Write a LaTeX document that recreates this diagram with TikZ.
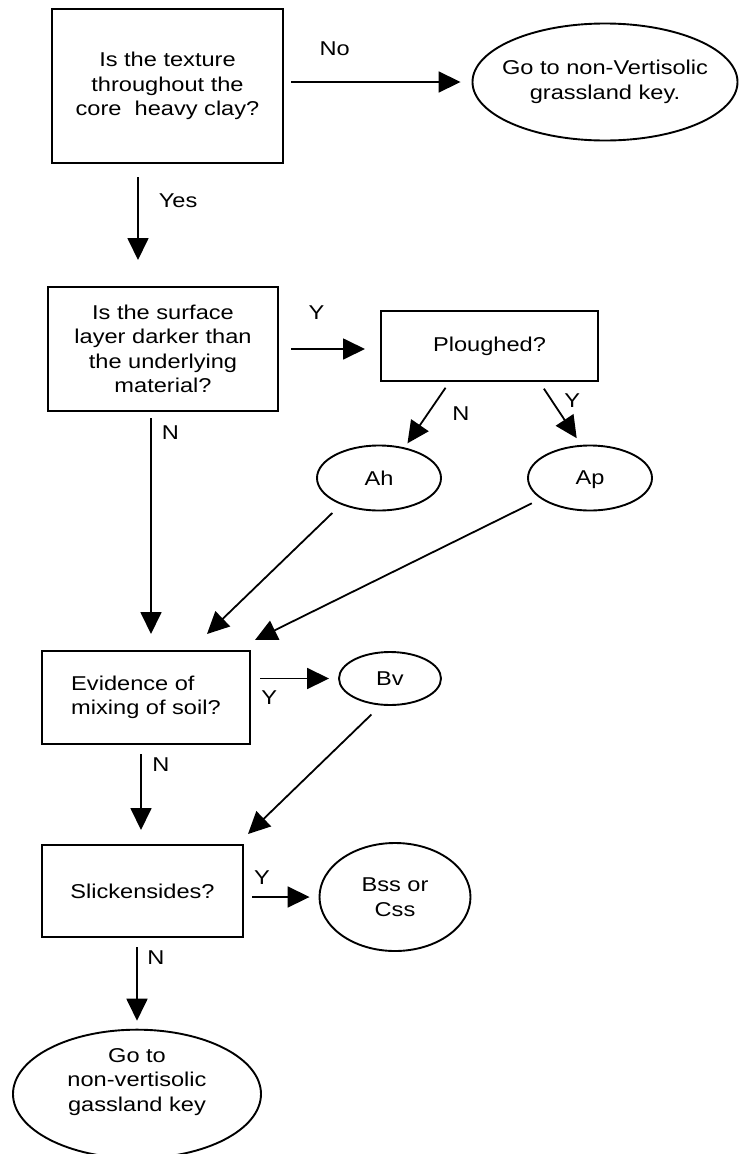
\documentclass[tikz,border=0pt]{standalone}
\usepackage{fontspec}
\setmainfont{Liberation Sans}[FakeStretch=1.18]
\usetikzlibrary{arrows.meta}
\usetikzlibrary{shapes.geometric}

\begin{document}
\begin{tikzpicture}[x=1pt,y=1pt,
  font=\fontsize{20}{24.5}\selectfont,
  >={Triangle[length=22pt,width=21pt]},
  qbox/.style={draw,line width=2pt,rectangle,align=center,inner sep=0pt},
  oval/.style={draw,line width=1.9pt,ellipse,align=center,inner xsep=-15pt,inner ysep=0pt},
  arr/.style={->,line width=1.8pt},
  lbl/.style={inner sep=1pt}]
\useasboundingbox (0,0) rectangle (740,-1154);

\node[qbox, minimum width=231pt, minimum height=154pt] (texture) at (167.5,-86) {Is the texture\\throughout the\\core\ \ heavy clay?};
\node[oval, minimum width=265pt, minimum height=117pt] (nonvert) at (605,-82) {Go to non-Vertisolic\\grassland key.};
\node[qbox, minimum width=230pt, minimum height=124pt] (surface) at (163,-349) {Is the surface\\layer darker than\\the underlying\\material?};
\node[qbox, minimum width=217pt, minimum height=70pt] (plough) at (489.5,-346) {Ploughed?};
\node[oval, minimum width=124pt, minimum height=65pt] (ah) at (379,-478) {Ah};
\node[oval, minimum width=124pt, minimum height=65pt, text depth=0pt] (ap) at (590,-478) {Ap};
\node[qbox, align=left, minimum width=208pt, minimum height=93pt] (evidence) at (146,-697.5) {Evidence of\\mixing of soil?};
\node[oval, minimum width=102pt, minimum height=53pt] (bv) at (390,-678.5) {Bv};
\node[qbox, minimum width=201pt, minimum height=92pt] (slick) at (142.5,-891) {Slickensides?};
\node[oval, minimum width=151pt, minimum height=108pt] (bss) at (395,-897) {Bss or\\Css};
\node[oval, minimum width=248pt, minimum height=118pt, text depth=28pt] (gograss) at (137,-1094) {Go to\\non-vertisolic\\gassland key};

\draw[arr, shorten <=7pt, shorten >=11pt] (texture.east |- nonvert.west) -- (nonvert.west)
  node[lbl, pos=.27, above=24pt] (lno) {No};
\draw[arr, shorten <=13pt] ([xshift=-29.5pt]texture.south) -- ([xshift=-25pt,yshift=26pt]surface.north)
  node[lbl, pos=.38, right=19pt] (lyes) {Yes};
\draw[arr, shorten <=12pt, shorten >=15pt] (surface.east) -- (surface.east -| plough.west)
  node[lbl, pos=.37, above=28pt] (lplough) {Y};
\draw[arr, shorten <=7pt, shorten >=5pt] ([xshift=-40pt]plough.south) -- (ah.50)
  node[lbl, pos=.49, right=23pt] (lah) {N};
\draw[arr, shorten <=8pt, shorten >=8pt] ([xshift=50pt]plough.south) -- (ap.105)
  node[lbl, pos=.29, right=11pt] (lap) {Y};
\draw[arr, shorten <=6pt] ([xshift=-12pt]surface.south) -- ([xshift=5pt,yshift=16pt]evidence.north)
  node[lbl, pos=.094, right=9pt] (lsurf) {N};
\draw[arr, shorten <=12pt] (ah.215) -- ([xshift=61pt,yshift=16pt]evidence.north);
\draw[arr, shorten <=10pt] (ap.203) -- ([xshift=109pt,yshift=10pt]evidence.north);
\draw[arr, shorten <=9pt, shorten >=9pt] (bv.west -| evidence.east) -- (bv.west)
  node[lbl, pos=.21, below=10pt] (lbv) {Y};
\draw[arr, shorten <=9pt] ([xshift=-5pt]evidence.south) -- ([xshift=-1.5pt,yshift=14pt]slick.north)
  node[lbl, pos=.23, right=9.5pt] (levid) {N};
\draw[arr, shorten <=13pt] (bv.251) -- ([xshift=105.5pt,yshift=10pt]slick.north);
\draw[arr, shorten <=8pt, shorten >=9pt] (slick.east |- bss.west) -- (bss.west)
  node[lbl, pos=.24, above=11pt] (lbss) {Y};
\draw[arr, shorten <=9pt] ([xshift=-5.5pt]slick.south) -- ([yshift=8pt]gograss.north)
  node[lbl, pos=.24, right=8.5pt] (lslick) {N};
\end{tikzpicture}
\end{document}
